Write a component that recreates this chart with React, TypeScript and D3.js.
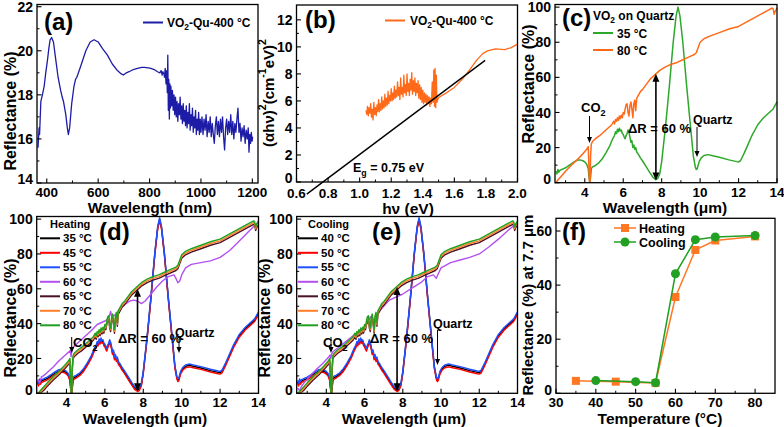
import React from "react";
import * as d3 from "d3";

type P = [number, number];

const FONT = "'Liberation Sans', Arial, Helvetica, sans-serif";

// ---------------- (a) reflectance of VO2-Qu-400 °C (nm, %) ----------------
const A_SPECTRUM: P[] = [
  [366, 15.6], [370, 16.5], [372, 16.2], [374, 16.8], [377, 17.7], [383, 18.0], [390, 18.4], [396, 19.0],
  [403, 19.6], [408, 20.1], [413, 20.5], [419, 20.6], [426, 20.4], [435, 19.6], [444, 18.8], [454, 18.2],
  [460, 17.9], [465, 17.7], [474, 17.1], [480, 16.5], [484, 16.2], [489, 16.5], [497, 17.6], [506, 18.4],
  [512, 18.7], [517, 18.8], [532, 19.3], [552, 20.0], [569, 20.4], [584, 20.5], [600, 20.4], [617, 20.1],
  [636, 19.8], [655, 19.4], [675, 19.1], [690, 18.95], [698, 18.9], [710, 19.0], [720, 19.05], [737, 19.15],
  [753, 19.2], [770, 19.25], [779, 19.25], [795, 19.22], [805, 19.2], [818, 19.15], [831, 19.05], [840, 19.0],
  [845, 19.1], [849, 18.9], [852, 19.05], [856, 18.95],
  [858, 18.8], [861, 19.2], [864, 18.5], [867, 19.1], [869, 18.1], [871, 19.8], [873, 17.3], [875, 18.7],
  [877, 16.9], [879, 18.5], [881, 17.4], [883, 18.4], [886, 17.5], [889, 18.2], [892, 17.3], [895, 18.0],
  [898, 17.1], [901, 17.9], [904, 17.0], [907, 17.7], [910, 16.8], [913, 17.6], [916, 17.1], [919, 17.9],
  [922, 16.9], [925, 17.5], [928, 16.7], [931, 17.6], [934, 16.8], [937, 17.3], [940, 16.6], [943, 17.5],
  [946, 16.5], [949, 17.2], [952, 16.7], [955, 17.6], [958, 16.4], [961, 17.1], [964, 16.6], [967, 17.4],
  [970, 16.3], [973, 17.0], [976, 16.5], [979, 17.3], [982, 16.2], [985, 16.9], [988, 16.4], [991, 17.2],
  [994, 16.2], [997, 16.9], [1000, 16.3], [1004, 17.0], [1008, 16.2], [1012, 16.9], [1016, 16.4], [1020, 17.1],
  [1024, 16.1], [1028, 16.8], [1032, 16.3], [1036, 17.0], [1040, 16.1], [1044, 16.7], [1048, 16.2], [1052, 15.8],
  [1056, 16.6], [1060, 17.0], [1064, 16.2], [1068, 16.8], [1072, 16.1], [1076, 16.9], [1080, 16.3], [1084, 17.0],
  [1088, 16.1], [1092, 15.5], [1096, 16.5], [1100, 16.9], [1104, 16.2], [1108, 16.8], [1112, 16.3], [1116, 17.1],
  [1120, 16.2], [1124, 16.8], [1128, 16.0], [1132, 16.7], [1136, 16.3], [1140, 16.9], [1144, 17.4], [1148, 16.3],
  [1152, 16.7], [1156, 15.9], [1160, 16.5], [1164, 16.1], [1168, 16.6], [1172, 15.8], [1176, 16.4], [1180, 16.0],
  [1184, 16.5], [1187, 15.4], [1190, 16.2], [1193, 15.8], [1196, 16.3], [1199, 15.9], [1201, 16.1],
];

// ---------------- (b) Tauc plot (eV, (αhν)^2) ----------------
const B_TAUC: P[] = [
  [1.04, 5.3], [1.045, 5.0], [1.05, 5.6], [1.055, 4.9], [1.06, 5.5], [1.065, 5.1], [1.07, 5.8], [1.075, 4.8],
  [1.08, 5.4], [1.085, 4.6], [1.09, 5.9], [1.095, 5.0], [1.1, 5.5], [1.105, 4.9], [1.11, 5.7], [1.115, 5.2],
  [1.12, 6.1], [1.125, 5.2], [1.13, 5.8], [1.135, 5.3], [1.14, 6.3], [1.145, 5.4], [1.15, 6.0], [1.155, 5.5],
  [1.16, 6.5], [1.165, 5.6], [1.17, 6.2], [1.175, 5.7], [1.18, 6.7], [1.185, 5.8], [1.19, 6.4], [1.195, 6.0],
  [1.2, 6.9], [1.205, 6.0], [1.21, 6.6], [1.215, 6.1], [1.22, 7.1], [1.225, 6.2], [1.23, 6.8], [1.235, 6.3],
  [1.24, 7.4], [1.245, 6.4], [1.25, 7.0], [1.255, 6.1], [1.26, 7.7], [1.265, 6.5], [1.27, 7.0], [1.275, 6.3],
  [1.28, 7.9], [1.285, 6.6], [1.29, 7.2], [1.295, 6.4], [1.3, 8.0], [1.305, 6.7], [1.31, 7.3], [1.315, 6.4],
  [1.32, 7.6], [1.325, 6.8], [1.33, 8.1], [1.335, 6.5], [1.34, 7.5], [1.345, 6.7], [1.35, 7.7], [1.355, 6.4],
  [1.36, 7.3], [1.365, 6.6], [1.37, 7.5], [1.375, 6.2], [1.38, 7.2], [1.385, 6.1], [1.39, 7.0], [1.395, 5.9],
  [1.4, 6.8], [1.405, 5.8], [1.41, 6.6], [1.415, 5.9], [1.42, 6.5], [1.425, 5.7], [1.43, 6.4], [1.435, 5.8],
  [1.44, 6.3], [1.445, 5.6], [1.45, 6.2], [1.455, 5.8], [1.46, 7.4], [1.465, 5.9], [1.47, 8.3], [1.474, 5.6],
  [1.478, 8.4], [1.482, 5.5], [1.486, 7.9], [1.49, 5.9], [1.495, 6.1], [1.5, 6.25], [1.55, 6.6], [1.6, 7.0],
  [1.65, 7.6], [1.7, 8.35], [1.74, 9.0], [1.78, 9.5], [1.81, 9.7], [1.86, 9.85], [1.92, 9.8], [1.96, 9.95],
  [2.0, 10.2],
];
const B_FIT: P[] = [[0.665, -0.9], [1.795, 9.0]];

// ---------------- (c)-(e) IR reflectance (µm, %) ----------------
const INSULATING_35C: P[] = [
  [2.5, 6.5], [2.55, 5], [2.6, 7.5], [2.65, 6], [2.7, 7], [2.8, 7.5], [2.9, 8], [3.0, 8.5], [3.2, 10], [3.4, 11.5],
  [3.6, 12.8], [3.75, 13], [3.9, 12.5], [4.0, 11.8], [4.1, 10.5], [4.18, 8], [4.22, 3], [4.26, 0.5], [4.3, 3],
  [4.34, 8], [4.4, 9], [4.5, 9.5], [4.7, 11], [4.9, 13.5], [5.1, 17], [5.3, 21], [5.45, 25], [5.55, 27],
  [5.6, 29], [5.65, 28], [5.7, 30.5], [5.75, 29], [5.8, 31], [5.85, 29.5], [5.9, 30], [5.95, 28], [6.0, 27.5],
  [6.05, 26], [6.1, 25], [6.15, 27], [6.2, 28], [6.25, 30], [6.3, 28.5], [6.35, 26], [6.4, 23], [6.45, 24],
  [6.5, 20], [6.55, 21.5], [6.6, 19], [6.65, 20], [6.7, 17.5], [6.8, 16], [6.9, 14], [7.0, 12.5], [7.2, 9],
  [7.4, 5.5], [7.55, 3], [7.7, 1.8], [7.8, 2.5], [7.9, 5], [8.0, 12], [8.2, 32], [8.4, 55], [8.6, 80],
  [8.75, 95], [8.85, 100], [8.95, 95], [9.1, 80], [9.3, 55], [9.5, 32], [9.65, 15], [9.75, 9], [9.8, 7.5],
  [9.85, 8], [9.95, 12], [10.05, 14], [10.2, 15.5], [10.4, 16], [10.6, 15.5], [11.0, 14.5], [11.5, 13],
  [11.9, 12], [12.0, 11.8], [12.1, 12.5], [12.3, 17], [12.5, 22], [12.7, 27], [13.0, 33], [13.3, 37],
  [13.6, 40], [13.8, 42], [13.95, 45], [14.0, 46],
];
const METALLIC_80C: P[] = [
  [2.5, 0], [2.6, 1.5], [2.8, 4], [3.0, 6.5], [3.3, 10], [3.6, 13], [3.9, 16.5], [4.1, 19], [4.18, 20.5],
  [4.2, 14], [4.24, 1], [4.28, 0.5], [4.3, 15], [4.34, 22], [4.4, 23.5], [4.6, 25.5], [4.8, 27], [5.0, 29],
  [5.2, 31], [5.4, 33], [5.5, 35], [5.55, 33.5], [5.6, 36], [5.65, 35], [5.7, 37], [5.75, 35.5], [5.8, 38],
  [5.85, 36.5], [5.9, 38.5], [5.95, 37], [6.0, 40], [6.05, 39], [6.1, 42], [6.15, 44.5], [6.2, 45], [6.25, 40],
  [6.3, 38], [6.35, 44], [6.4, 46], [6.45, 42], [6.5, 37], [6.55, 45], [6.6, 47], [6.65, 41], [6.7, 48],
  [6.8, 50], [6.9, 52], [7.0, 53], [7.2, 56], [7.4, 59], [7.6, 61], [7.7, 62], [7.9, 64], [8.2, 66],
  [8.5, 67.5], [8.8, 68.5], [9.1, 70], [9.4, 71.5], [9.7, 73], [9.8, 74], [9.9, 77], [10.0, 80], [10.2, 82],
  [10.5, 83.5], [11.0, 85.5], [11.5, 87.5], [12.0, 89], [12.5, 92], [13.0, 95], [13.5, 98], [13.75, 99.5],
  [13.8, 99], [13.85, 96], [13.9, 97.5], [14.0, 99.5],
];
const HEATING_60C: P[] = [
  [2.5, 8], [2.6, 6], [2.7, 9.5], [2.8, 10], [3.0, 12], [3.3, 15], [3.6, 18.5], [3.9, 21.5], [4.1, 23.5],
  [4.2, 24.5], [4.24, 21], [4.28, 24.5], [4.35, 26.5], [4.6, 29], [5.0, 33], [5.3, 36], [5.6, 39.5],
  [5.8, 40.5], [6.0, 41.5], [6.2, 43], [6.3, 47], [6.35, 44], [6.5, 45], [6.6, 44], [6.7, 47.5], [6.9, 49.5],
  [7.1, 51.5], [7.3, 53], [7.5, 53.5], [7.7, 53], [7.9, 51.5], [8.1, 53], [8.4, 57], [8.7, 61], [9.0, 64.5],
  [9.3, 67], [9.6, 68], [9.7, 66], [9.8, 63.5], [9.9, 64.5], [10.0, 68], [10.2, 72], [10.5, 74], [11.0, 75],
  [11.5, 76], [12.0, 78], [12.5, 82], [13.0, 87.5], [13.5, 93], [14.0, 98.5],
];
const COOLING_60C: P[] = [
  [2.5, 3], [2.6, 1.5], [2.7, 4], [2.9, 7], [3.2, 10.5], [3.5, 14], [3.8, 17], [4.1, 20.5], [4.2, 22],
  [4.24, 20], [4.28, 22.5], [4.35, 24], [4.6, 26], [5.0, 29.5], [5.4, 33], [5.7, 35.5], [6.0, 38], [6.2, 41],
  [6.3, 44], [6.4, 42], [6.6, 43], [6.7, 46], [7.0, 50], [7.3, 53.5], [7.7, 55.5], [8.0, 57], [8.5, 60.5],
  [9.0, 64], [9.3, 67], [9.6, 68], [9.75, 66], [9.85, 68.5], [10.0, 72], [10.5, 75], [11.0, 76.5],
  [11.5, 78], [12.0, 80], [12.5, 84], [13.0, 88.5], [13.5, 93.5], [14.0, 98],
];

const HEATING_LABELS = ["35 °C", "45 °C", "55 °C", "60 °C", "65 °C", "70 °C", "80 °C"];
const COOLING_LABELS = ["40 °C", "50 °C", "55 °C", "60 °C", "65 °C", "70 °C", "80 °C"];
const SERIES_STATE = ["ins", "ins", "ins", "mid", "met", "met", "met"];
const SERIES_SHIFT = [0, -0.8, 0.8, 0, -2.5, -1.5, -0.5];
const SERIES_COLORS = ["#000000", "#ff0000", "#2050ff", "#b450f0", "#4a1028", "#ff7f27", "#22a022"];

// ---------------- (f) reflectance at 7.7 µm ----------------
const F_HEAT_T = [35, 45, 55, 60, 65, 70, 80];
const F_HEAT_R = [4.6, 4.3, 3.8, 35.6, 53.0, 56.5, 58.0];
const F_COOL_T = [40, 50, 55, 60, 65, 70, 80];
const F_COOL_R = [4.7, 4.3, 3.9, 44.2, 56.8, 57.8, 58.3];

const C_ORANGE = "#ff6a1a";
const C_GREEN = "#2ea82a";

type Sc = d3.ScaleLinear<number, number>;

function Axes(props: {
  xs: Sc; ys: Sc; xMajor: number[]; xMinor: number[]; yMajor: number[]; yMinor: number[];
  xFmt?: (v: number) => string; yFmt?: (v: number) => string; xLabGap?: number;
}) {
  const { xs, ys, xMajor, xMinor, yMajor, yMinor } = props;
  const xFmt = props.xFmt || ((v: number) => String(v));
  const yFmt = props.yFmt || ((v: number) => String(v));
  const gap = props.xLabGap || 14;
  const [x0, x1] = xs.range();
  const [yb, yt] = ys.range();
  const yMin = ys.domain()[0];
  return (
    <g>
      <rect x={x0} y={yt} width={x1 - x0} height={yb - yt} fill="none" stroke="#000" strokeWidth={1.3} />
      {xMajor.map((v) => (
        <line key={"xM" + v} x1={xs(v)} x2={xs(v)} y1={yb} y2={yb - 4.5} stroke="#000" strokeWidth={1.1} />
      ))}
      {xMinor.map((v) => (
        <line key={"xm" + v} x1={xs(v)} x2={xs(v)} y1={yb} y2={yb - 2.5} stroke="#000" strokeWidth={1} />
      ))}
      {yMajor.map((v) => (
        <line key={"yM" + v} x1={x0} x2={x0 + 4.5} y1={ys(v)} y2={ys(v)} stroke="#000" strokeWidth={1.1} />
      ))}
      {yMinor.map((v) => (
        <line key={"ym" + v} x1={x0} x2={x0 + 2.5} y1={ys(v)} y2={ys(v)} stroke="#000" strokeWidth={1} />
      ))}
      {xMajor.map((v) => (
        <text key={"xl" + v} x={xs(v)} y={yb + gap} textAnchor="middle" fontSize={13.5} fontWeight="bold">
          {xFmt(v)}
        </text>
      ))}
      {yMajor.map((v) => (
        <text key={"yl" + v} x={x0 - 4} y={ys(v)} dy={v === yMin ? "0.1em" : "0.36em"} textAnchor="end"
          fontSize={14} fontWeight="bold">
          {yFmt(v)}
        </text>
      ))}
    </g>
  );
}

function Curve({ xs, ys, data, color, w = 1.3 }: { xs: Sc; ys: Sc; data: P[]; color: string; w?: number }) {
  const gen = d3.line<P>().x((d) => xs(d[0])).y((d) => ys(d[1]));
  return <path d={gen(data) || ""} fill="none" stroke={color} strokeWidth={w} strokeLinejoin="round" />;
}

function YTitle({ x, y, children, size = 16 }: { x: number; y: number; children: React.ReactNode; size?: number }) {
  return (
    <text transform={`translate(${x},${y}) rotate(-90)`} textAnchor="middle" dominantBaseline="central"
      fontSize={size} fontWeight="bold">
      {children}
    </text>
  );
}

function XTitle({ x, y, children }: { x: number; y: number; children: React.ReactNode }) {
  return (
    <text x={x} y={y} textAnchor="middle" fontSize={15.5} fontWeight="bold">
      {children}
    </text>
  );
}

function PanelLabel({ x, y, t }: { x: number; y: number; t: string }) {
  return (
    <text x={x} y={y} fontSize={24} fontWeight="bold">
      {t}
    </text>
  );
}

function DownArrow({ x, y1, y2, w = 1 }: { x: number; y1: number; y2: number; w?: number }) {
  return (
    <g>
      <line x1={x} x2={x} y1={y1} y2={y2 - 5} stroke="#000" strokeWidth={w} />
      <path d={`M${x - 2.5},${y2 - 6} L${x + 2.5},${y2 - 6} L${x},${y2} Z`} fill="#000" />
    </g>
  );
}

function DoubleArrow({ x, yTop, yBot }: { x: number; yTop: number; yBot: number }) {
  return (
    <g>
      <line x1={x} x2={x} y1={yTop + 6} y2={yBot - 6} stroke="#000" strokeWidth={1.6} />
      <path d={`M${x - 3.5},${yTop + 8} L${x + 3.5},${yTop + 8} L${x},${yTop} Z`} fill="#000" />
      <path d={`M${x - 3.5},${yBot - 8} L${x + 3.5},${yBot - 8} L${x},${yBot} Z`} fill="#000" />
    </g>
  );
}

// text with one subscript: head + sub + tail
function SubText(props: { x: number; y: number; head: string; sub: string; tail?: string; size: number }) {
  const d = props.size * 0.28;
  return (
    <text x={props.x} y={props.y} fontSize={props.size} fontWeight="bold">
      <tspan>{props.head}</tspan>
      <tspan dy={d} fontSize={props.size * 0.7}>{props.sub}</tspan>
      {props.tail ? <tspan dy={-d}>{props.tail}</tspan> : null}
    </text>
  );
}

function stateCurve(state: string, heating: boolean): P[] {
  if (state === "ins") return INSULATING_35C;
  if (state === "met") return METALLIC_80C;
  return heating ? HEATING_60C : COOLING_60C;
}

function TempPanel(props: {
  xs: Sc; ys: Sc; labels: string[]; heading: string; heating: boolean; tag: string;
  legX: number; tagX: number; co2: [number, number, number]; quartz: [number, number, number, number];
  drX: number; arrowTop: number;
}) {
  const { xs, ys, labels, heading, heating, legX } = props;
  const series = labels.map((lab, i) => ({
    lab,
    color: SERIES_COLORS[i],
    data: stateCurve(SERIES_STATE[i], heating).map(([x, y]) => [x, Math.max(0, y + SERIES_SHIFT[i])] as P),
  }));
  const yb = ys.range()[0];
  return (
    <g>
      {series.map((s) => (
        <Curve key={s.lab} xs={xs} ys={ys} data={s.data} color={s.color} w={1.4} />
      ))}
      <Axes xs={xs} ys={ys} xMajor={[4, 6, 8, 10, 12, 14]} xMinor={[3, 5, 7, 9, 11, 13]}
        yMajor={[0, 20, 40, 60, 80, 100]} yMinor={[10, 30, 50, 70, 90]} />
      <text x={legX + 10} y={yb - 165} fontSize={11} fontWeight="bold">{heading}</text>
      {series.map((s, i) => {
        const y = yb - 155 + i * 14.5;
        return (
          <g key={"lg" + s.lab}>
            <line x1={legX} x2={legX + 20} y1={y} y2={y} stroke={s.color} strokeWidth={2} />
            <text x={legX + 23} y={y + 4} fontSize={11.5} fontWeight="bold">{s.lab}</text>
          </g>
        );
      })}
      <PanelLabel x={props.tagX} y={yb - 153} t={props.tag} />
      <SubText x={props.co2[0]} y={props.co2[1]} head="CO" sub="2" size={13} />
      <DownArrow x={props.co2[2]} y1={props.co2[1] - 10} y2={props.co2[1] + 6} />
      <text x={props.drX} y={yb - 50} fontSize={13} fontWeight="bold">ΔR = 60 %</text>
      <DoubleArrow x={xs(7.7)} yTop={ys(props.arrowTop)} yBot={ys(1.2)} />
      <text x={props.quartz[0]} y={props.quartz[1]} fontSize={12.5} fontWeight="bold">Quartz</text>
      <DownArrow x={props.quartz[2]} y1={props.quartz[1] + 2} y2={props.quartz[3]} />
    </g>
  );
}

export default function App() {
  // panel scales
  const xA = d3.scaleLinear().domain([362, 1222]).range([37, 258]);
  const yA = d3.scaleLinear().domain([14, 22.1]).range([183, 4.5]);
  const xB = d3.scaleLinear().domain([0.6, 2.0]).range([296.5, 517.5]);
  const yB = d3.scaleLinear().domain([0, 13.1]).range([182, 5]);
  const xC = d3.scaleLinear().domain([2.45, 14]).range([555, 777]);
  const yC = d3.scaleLinear().domain([0, 101.5]).range([182.7, 4.5]);
  const xD = d3.scaleLinear().domain([2.45, 14]).range([36.7, 258.5]);
  const yD = d3.scaleLinear().domain([0, 101.5]).range([393.3, 216.5]);
  const xE = d3.scaleLinear().domain([2.45, 14]).range([296.7, 517.5]);
  const yE = d3.scaleLinear().domain([0, 101.5]).range([393.3, 216.5]);
  const xF = d3.scaleLinear().domain([30, 85]).range([556, 775]);
  const yF = d3.scaleLinear().domain([0, 64.7]).range([393.3, 218.3]);

  const heat: P[] = F_HEAT_T.map((t, i) => [t, F_HEAT_R[i]]);
  const cool: P[] = F_COOL_T.map((t, i) => [t, F_COOL_R[i]]);

  return (
    <svg width={784} height={427} viewBox="0 0 784 427"
      style={{ position: "absolute", left: 0, top: 0, background: "#fff", fontFamily: FONT }}>
      <rect x={0} y={0} width={784} height={427} fill="#fff" />

      {/* (a) */}
      <Curve xs={xA} ys={yA} data={A_SPECTRUM} color="#1c1ca6" w={1.3} />
      <Axes xs={xA} ys={yA} xMajor={[400, 600, 800, 1000, 1200]} xMinor={[500, 700, 900, 1100]}
        yMajor={[14, 16, 18, 20, 22]} yMinor={[15, 17, 19, 21]} />
      <PanelLabel x={44} y={30} t="(a)" />
      <line x1={143} x2={163} y1={22.5} y2={22.5} stroke="#1c1ca6" strokeWidth={2} />
      <SubText x={167} y={27} head="VO" sub="2" tail="-Qu-400 °C" size={12} />
      <YTitle x={10} y={111}>Reflectance (%)</YTitle>
      <XTitle x={150} y={213}>Wavelength (nm)</XTitle>

      {/* (b) */}
      <Curve xs={xB} ys={yB} data={B_TAUC} color={C_ORANGE} w={1.3} />
      <Curve xs={xB} ys={yB} data={B_FIT} color="#000" w={1.4} />
      <Axes xs={xB} ys={yB} xMajor={[0.6, 0.8, 1.0, 1.2, 1.4, 1.6, 1.8, 2.0]}
        xMinor={[0.7, 0.9, 1.1, 1.3, 1.5, 1.7, 1.9]} yMajor={[0, 2, 4, 6, 8, 10, 12]}
        yMinor={[1, 3, 5, 7, 9, 11]} xFmt={(v) => v.toFixed(1)} xLabGap={15.5} />
      <PanelLabel x={305} y={28} t="(b)" />
      <line x1={385} x2={405} y1={20.5} y2={20.5} stroke={C_ORANGE} strokeWidth={2} />
      <SubText x={410} y={25} head="VO" sub="2" tail="-Qu-400 °C" size={12} />
      <SubText x={353} y={172} head="E" sub="g" tail=" = 0.75 eV" size={12.5} />
      <YTitle x={268} y={93} size={15}>
        <tspan>(αhν)</tspan><tspan dy={-6} fontSize={10.5}>2</tspan><tspan dy={6}>(cm</tspan>
        <tspan dy={-6} fontSize={10.5}>-1</tspan><tspan dy={6}>eV)</tspan>
        <tspan dy={-6} fontSize={10.5}>2</tspan>
      </YTitle>
      <XTitle x={408} y={213.5}>hν (eV)</XTitle>

      {/* (c) */}
      <Curve xs={xC} ys={yC} data={INSULATING_35C} color={C_GREEN} w={1.5} />
      <Curve xs={xC} ys={yC} data={METALLIC_80C} color={C_ORANGE} w={1.5} />
      <Axes xs={xC} ys={yC} xMajor={[4, 6, 8, 10, 12, 14]} xMinor={[3, 5, 7, 9, 11, 13]}
        yMajor={[0, 20, 40, 60, 80, 100]} yMinor={[10, 30, 50, 70, 90]} />
      <PanelLabel x={562} y={26} t="(c)" />
      <SubText x={593} y={20} head="VO" sub="2" tail=" on Quartz" size={12} />
      <line x1={593} x2={613} y1={33} y2={33} stroke={C_GREEN} strokeWidth={2} />
      <text x={617} y={37.5} fontSize={12} fontWeight="bold">35 °C</text>
      <line x1={593} x2={613} y1={50} y2={50} stroke={C_ORANGE} strokeWidth={2} />
      <text x={617} y={54.5} fontSize={12} fontWeight="bold">80 °C</text>
      <SubText x={581} y={112} head="CO" sub="2" size={13} />
      <DownArrow x={589.5} y1={116} y2={143} />
      <text x={628} y={133} fontSize={13} fontWeight="bold">ΔR = 60 %</text>
      <DoubleArrow x={xC(7.7)} yTop={yC(62)} yBot={yC(1.2)} />
      <text x={693} y={124} fontSize={12.5} fontWeight="bold">Quartz</text>
      <DownArrow x={697} y1={127} y2={157} />
      <YTitle x={528} y={84}>Reflectance (%)</YTitle>
      <XTitle x={665} y={213}>Wavelength (μm)</XTitle>

      {/* (d) */}
      <TempPanel xs={xD} ys={yD} labels={HEATING_LABELS} heading="Heating" heating={true} tag="(d)"
        legX={40} tagX={99} co2={[73, 347, 71.7]} quartz={[175, 337, 179, 353]} drX={118} arrowTop={60} />
      <YTitle x={10} y={318}>Reflectance (%)</YTitle>
      <XTitle x={145} y={423.5}>Wavelength (μm)</XTitle>

      {/* (e) */}
      <TempPanel xs={xE} ys={yE} labels={COOLING_LABELS} heading="Cooling" heating={false} tag="(e)"
        legX={298} tagX={372} co2={[323, 347, 331]} quartz={[433, 328, 437.5, 365]} drX={370} arrowTop={61} />
      <YTitle x={264} y={318}>Reflectance (%)</YTitle>
      <XTitle x={404} y={423.5}>Wavelength (μm)</XTitle>

      {/* (f) */}
      <Curve xs={xF} ys={yF} data={heat} color="#ff7722" w={1.5} />
      {heat.map((d) => (
        <rect key={"h" + d[0]} x={xF(d[0]) - 4} y={yF(d[1]) - 4} width={8} height={8} fill="#ff7722" />
      ))}
      <Curve xs={xF} ys={yF} data={cool} color="#22a022" w={1.5} />
      {cool.map((d) => (
        <circle key={"c" + d[0]} cx={xF(d[0])} cy={yF(d[1])} r={4.5} fill="#22a022" />
      ))}
      <Axes xs={xF} ys={yF} xMajor={[30, 40, 50, 60, 70, 80]} xMinor={[35, 45, 55, 65, 75]}
        yMajor={[0, 20, 40, 60]} yMinor={[10, 30, 50]} />
      <PanelLabel x={562} y={240} t="(f)" />
      <line x1={614} x2={636} y1={228} y2={228} stroke="#ff7722" strokeWidth={1.5} />
      <rect x={621} y={224} width={8} height={8} fill="#ff7722" />
      <text x={639} y={232.5} fontSize={12.5} fontWeight="bold">Heating</text>
      <line x1={614} x2={636} y1={242} y2={242} stroke="#22a022" strokeWidth={1.5} />
      <circle cx={625} cy={242} r={4.5} fill="#22a022" />
      <text x={639} y={246.5} fontSize={12.5} fontWeight="bold">Cooling</text>
      <YTitle x={527} y={305} size={15}>Reflectance (%) at 7.7 μm</YTitle>
      <XTitle x={660} y={423.5}>Temperature (°C)</XTitle>
    </svg>
  );
}
